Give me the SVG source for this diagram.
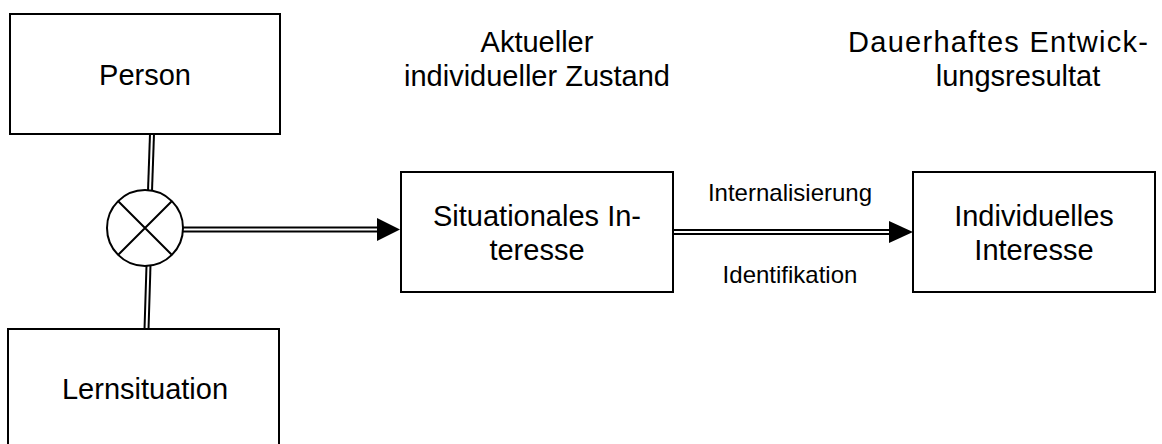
<svg xmlns="http://www.w3.org/2000/svg" width="1162" height="444" viewBox="0 0 1162 444">
  <style>
    .box { fill: #fff; stroke: #000; stroke-width: 2; }
    .lbl { font-family: "Liberation Sans", Arial, sans-serif; font-size: 29px; fill: #000; text-anchor: middle; }
    .small { font-family: "Liberation Sans", Arial, sans-serif; font-size: 24px; fill: #000; text-anchor: middle; }
    .dbl-outer { stroke: #000; stroke-width: 6; fill: none; }
    .dbl-inner { stroke: #fff; stroke-width: 2; fill: none; }
    .head { fill: #000; stroke: none; }
    .ring { fill: #fff; stroke: #000; stroke-width: 2; }
  </style>

  <rect width="1162" height="444" fill="#fff"/>

  <!-- connectors: double lines with solid heads -->
  <g id="connectors">
    <path class="dbl-outer" d="M152 134 L150 191"/>
    <path class="dbl-inner" d="M152 134 L150 191"/>
    <path class="dbl-outer" d="M148.5 265 L146.5 330"/>
    <path class="dbl-inner" d="M148.5 265 L146.5 330"/>
    <path class="dbl-outer" d="M182 229.5 L380 229.5"/>
    <path class="dbl-inner" d="M182 229.5 L380 229.5"/>
    <polygon class="head" points="377,218 400,229.5 377,241"/>
    <path class="dbl-outer" d="M673 232 L892 232"/>
    <path class="dbl-inner" d="M673 232 L892 232"/>
    <polygon class="head" points="889,221 913,232 889,243"/>
    <text class="small" x="790" y="201">Internalisierung</text>
    <text class="small" x="790" y="283">Identifikation</text>
  </g>

  <g id="person">
    <rect class="box" x="10" y="14" width="270" height="120"/>
    <text class="lbl" x="145" y="85">Person</text>
  </g>

  <g id="lernsituation">
    <rect class="box" x="8" y="329" width="271" height="130"/>
    <text class="lbl" x="145" y="399">Lernsituation</text>
  </g>

  <g id="kombination">
    <circle class="ring" cx="145" cy="228" r="38"/>
    <path d="M118 201 L172 255 M172 201 L118 255" stroke="#000" stroke-width="2"/>
  </g>

  <g id="situationales-interesse">
    <rect class="box" x="401" y="172" width="272" height="120"/>
    <text class="lbl" x="537" y="226">Situationales In-</text>
    <text class="lbl" x="537" y="260">teresse</text>
  </g>

  <g id="individuelles-interesse">
    <rect class="box" x="913" y="172" width="242" height="120"/>
    <text class="lbl" x="1034" y="226">Individuelles</text>
    <text class="lbl" x="1034" y="260">Interesse</text>
  </g>

  <g id="kopf-zustand">
    <text class="lbl" x="537" y="52">Aktueller</text>
    <text class="lbl" x="537" y="86">individueller Zustand</text>
  </g>

  <g id="kopf-resultat">
    <text class="lbl" x="848" y="52" style="text-anchor:start" textLength="300" lengthAdjust="spacing">Dauerhaftes Entwick-</text>
    <text class="lbl" x="1018" y="86">lungsresultat</text>
  </g>
</svg>
